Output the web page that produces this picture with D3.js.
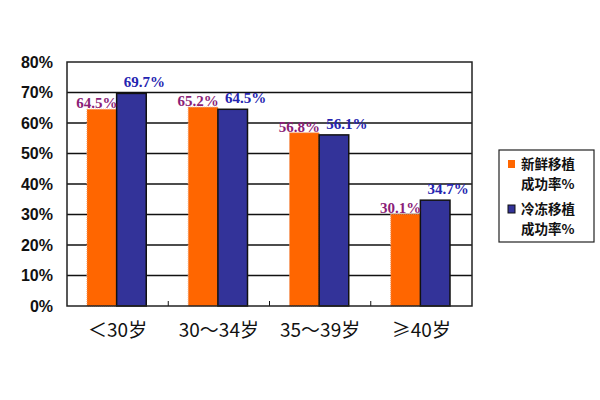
<!DOCTYPE html>
<html>
<head>
<meta charset="utf-8">
<script src="https://cdn.jsdelivr.net/npm/d3@7"></script>
<style>
  body { margin: 0; background: #fff; }
  svg { display: block; }
</style>
</head>
<body>
<div class="chart"></div>
<script>
// Data
const categories = ['＜30岁', '30～34岁', '35～39岁', '≥40岁'];
const seriesNames = ['新鲜移植成功率%', '冷冻移植成功率%'];
const freshValues = [64.5, 65.2, 56.8, 30.1];
const frozenValues = [69.7, 64.5, 56.1, 34.7];
const yTicks = [0, 10, 20, 30, 40, 50, 60, 70, 80];

const colors = ['#ff6600', '#333399'];
const labelColors = ['#8b1e78', '#2424b0'];

// Dimensions
const W = 600, H = 400;
const margin = {top: 62, right: 128, bottom: 94, left: 67};
const width = W - margin.left - margin.right;
const height = H - margin.top - margin.bottom;

const svg = d3.select('.chart')
  .append('svg')
  .attr('width', W)
  .attr('height', H);

const g = svg.append('g')
  .attr('transform', `translate(${margin.left}, ${margin.top})`);

// Scales
const x0 = d3.scaleBand().domain(categories).range([0, width]).paddingInner(0).paddingOuter(0);
const x1 = d3.scaleBand().domain([0, 1]).range([20, x0.bandwidth() - 22]).padding(0);
const y = d3.scaleLinear().domain([0, 80]).range([height, 0]);

// Gridlines
g.append('g')
  .selectAll('line')
  .data(yTicks.filter(d => d > 0 && d < 80))
  .join('line')
  .attr('x1', 0)
  .attr('x2', width)
  .attr('y1', d => y(d))
  .attr('y2', d => y(d))
  .attr('stroke', '#111')
  .attr('stroke-width', 1.5);

// Y axis labels
const yAxis = d3.axisLeft(y)
  .tickValues(yTicks)
  .tickFormat(d => d + '%')
  .tickSize(0)
  .tickPadding(14);

g.append('g')
  .call(yAxis)
  .call(a => a.select('.domain').remove())
  .selectAll('text')
  .attr('fill', '#111')
  .style('font-family', '"Liberation Sans", Arial, sans-serif')
  .style('font-size', '16px')
  .style('font-weight', 'bold');

// Bars
const rows = categories.map((c, i) => ({cat: c, vals: [freshValues[i], frozenValues[i]]}));

const groups = g.append('g')
  .selectAll('g')
  .data(rows)
  .join('g')
  .attr('transform', d => `translate(${x0(d.cat)}, 0)`);

groups.selectAll('rect')
  .data(d => d.vals.map((v, k) => ({k, v})))
  .join('rect')
  .attr('x', d => x1(d.k))
  .attr('y', d => y(d.v))
  .attr('width', x1.bandwidth())
  .attr('height', d => y(0) - y(d.v))
  .attr('fill', d => colors[d.k])
  .attr('stroke', d => d.k === 1 ? '#111' : '#f09a6a')
  .attr('stroke-width', d => d.k === 1 ? 1.5 : 1)
  .attr('stroke-dasharray', d => d.k === 1 ? null : '1,1');

// Value labels
groups.selectAll('text')
  .data(d => d.vals.map((v, k) => ({k, v})))
  .join('text')
  .attr('x', d => x1(d.k) + x1.bandwidth() / 2 + (d.k === 0 ? -5 : 13))
  .attr('y', d => y(d.v) + (d.k === 0 ? -1 : -6))
  .attr('text-anchor', 'middle')
  .attr('fill', d => labelColors[d.k])
  .style('font-family', '"Liberation Serif", "Times New Roman", serif')
  .style('font-size', '15px')
  .style('font-weight', 'bold')
  .text(d => d.v.toFixed(1) + '%');

// Category separator ticks
g.append('g')
  .selectAll('line')
  .data(categories.slice(1))
  .join('line')
  .attr('x1', d => x0(d))
  .attr('x2', d => x0(d))
  .attr('y1', height)
  .attr('y2', height - 5)
  .attr('stroke', '#111')
  .attr('stroke-width', 1);

// Frame
g.append('rect')
  .attr('x', 0)
  .attr('y', 0)
  .attr('width', width)
  .attr('height', height)
  .attr('fill', 'none')
  .attr('stroke', '#222')
  .attr('stroke-width', 1.5);

// X labels
g.append('g')
  .selectAll('text')
  .data(categories)
  .join('text')
  .attr('x', d => x0(d) + x0.bandwidth() / 2)
  .attr('y', height + 31)
  .attr('text-anchor', 'middle')
  .attr('fill', '#111')
  .style('font-family', '"Noto Sans CJK SC", sans-serif')
  .style('font-size', '19px')
  .text(d => d);

// Legend
const legend = svg.append('g').attr('transform', 'translate(499, 150)');
legend.append('rect')
  .attr('width', 95)
  .attr('height', 92)
  .attr('fill', '#fff')
  .attr('stroke', '#222')
  .attr('stroke-width', 1.2);

const items = legend.selectAll('g.item')
  .data(seriesNames)
  .join('g')
  .attr('class', 'item')
  .attr('transform', (d, i) => `translate(0, ${i * 45})`);

items.append('rect')
  .attr('x', 9)
  .attr('y', 10)
  .attr('width', 7)
  .attr('height', 8)
  .attr('fill', (d, i) => colors[i])
  .attr('stroke', (d, i) => i === 1 ? '#111' : 'none');

items.append('text')
  .attr('x', 22)
  .attr('y', 19)
  .attr('fill', '#111')
  .style('font-family', '"Noto Sans CJK SC", sans-serif')
  .style('font-size', '13.5px')
  .style('font-weight', 'bold')
  .text(d => d.slice(0, 4));

items.append('text')
  .attr('x', 22)
  .attr('y', 39)
  .attr('fill', '#111')
  .style('font-family', '"Noto Sans CJK SC", sans-serif')
  .style('font-size', '13.5px')
  .style('font-weight', 'bold')
  .text(d => d.slice(4));
</script>
</body>
</html>
